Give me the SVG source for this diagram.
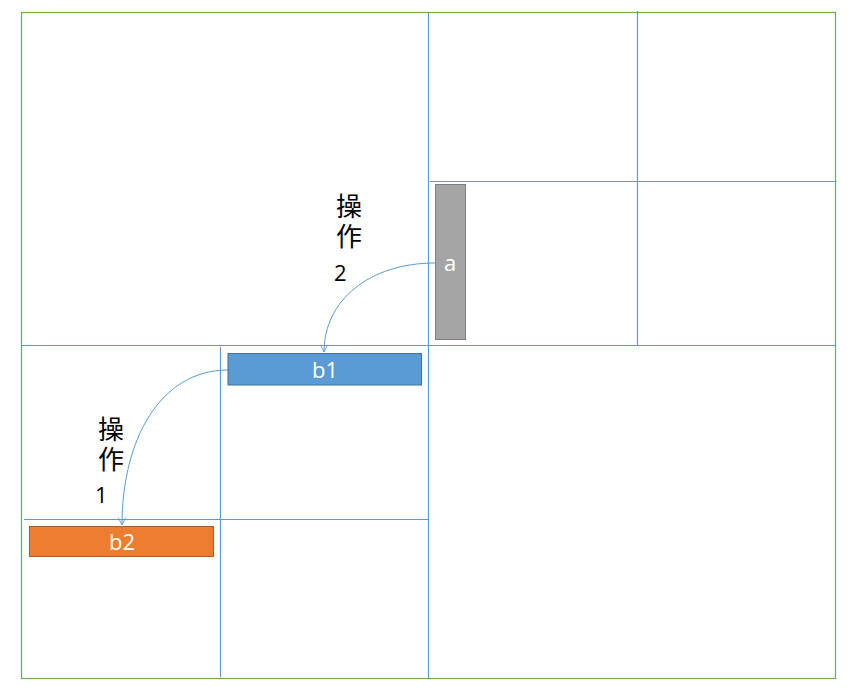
<svg xmlns="http://www.w3.org/2000/svg" width="859" height="693" viewBox="0 0 859 693">
<defs>
<style>
.grid{stroke:#5B9BD5;stroke-width:1.2;fill:none}
.frame{stroke:#70AD47;stroke-width:1.2;fill:none}
.conn{stroke:#5B9BD5;stroke-width:1;fill:none}
.num{font-family:"Open Sans","Noto Sans CJK SC",sans-serif;font-size:22px;fill:#000}
.cjk{font-family:"Noto Sans CJK SC","Open Sans",sans-serif;font-size:26px;fill:#000;writing-mode:vertical-rl;letter-spacing:4px}
.wt{font-family:"Open Sans","Liberation Sans",sans-serif;font-size:22px;fill:#fff;text-anchor:middle}
</style>
<marker id="arr" viewBox="0 0 10 10" refX="9" refY="5" markerWidth="9" markerHeight="9" markerUnits="userSpaceOnUse" orient="auto">
<path d="M1,1 L9,5 L1,9" fill="none" stroke="#5B9BD5" stroke-width="1"/>
</marker>
</defs>
<rect width="859" height="693" fill="#fff"/>
<g id="grid">
<line class="grid" x1="428.5" y1="12" x2="428.5" y2="678"/>
<line class="grid" x1="637.5" y1="11" x2="637.5" y2="346"/>
<line class="grid" x1="430" y1="181.5" x2="836.5" y2="181.5"/>
<line class="grid" x1="21" y1="345.5" x2="835.5" y2="345.5"/>
<line class="grid" x1="220.5" y1="347" x2="220.5" y2="677"/>
<line class="grid" x1="24" y1="519.5" x2="428" y2="519.5"/>
</g>
<rect id="frame" class="frame" x="21.5" y="12.5" width="814" height="666"/>
<g id="connectors">
<path class="conn" d="M435,263 C370,263 324,300 324,352" marker-end="url(#arr)"/>
<path class="conn" d="M228,370 C160,370 122,440 122,525" marker-end="url(#arr)"/>
</g>
<g id="node-a">
<rect x="435.5" y="184.5" width="30" height="155" fill="#A5A5A5" stroke="#7F7F7F" stroke-width="1"/>
<text class="wt" x="450" y="271">a</text>
</g>
<g id="node-b1">
<rect x="228" y="353.5" width="193.5" height="31.5" fill="#5B9BD5" stroke="#41719C" stroke-width="1"/>
<text class="wt" x="325" y="378">b1</text>
</g>
<g id="node-b2">
<rect x="29.5" y="526.5" width="184" height="30" fill="#ED7D31" stroke="#AE5A21" stroke-width="1"/>
<text class="wt" x="122" y="550">b2</text>
</g>
<g id="label-op2">
<text class="cjk" x="349" y="193">操作</text>
<text class="num" x="334" y="281">2</text>
</g>
<g id="label-op1">
<text class="cjk" x="111" y="416">操作</text>
<text class="num" x="95" y="503">1</text>
</g>
</svg>
